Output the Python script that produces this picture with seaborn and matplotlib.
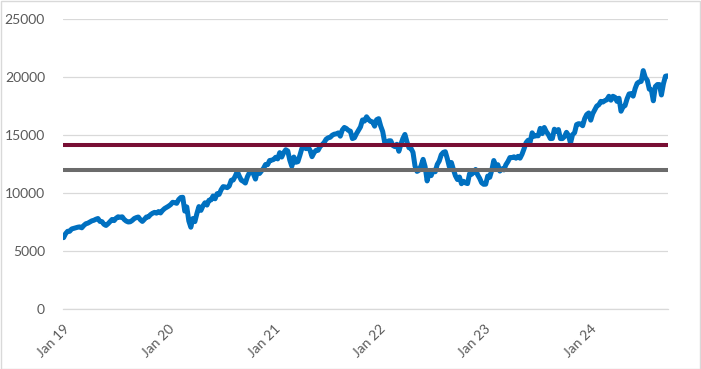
import matplotlib
matplotlib.use("Agg")

import matplotlib.pyplot as plt
import matplotlib.patches as mpatches
import seaborn as sns
import pandas as pd

# ── Data (weekly closes, Thursdays from 3 Jan 2019) ─────────────────────────
START_DATE = "2019-01-03"

values_2019 = [6150, 6500, 6700, 6700, 6900,
               6950, 7000, 7050, 7080,
               7000, 7200, 7350, 7400,
               7500, 7600, 7650, 7740,
               7800, 7550, 7530, 7300, 7200,
               7350, 7540, 7720, 7620,
               7830, 7950, 7900, 7950,
               7720, 7580, 7500, 7520, 7640,
               7800, 7880, 7930, 7700,
               7550, 7730, 7930, 7940, 8130,
               8250, 8330, 8260, 8400,
               8280, 8500, 8660, 8760]

values_2020 = [8870, 9000, 9200, 9170, 9110,
               9440, 9610, 9630, 8440,
               8800, 7590, 7050, 7800,
               7530, 8230, 8830, 8500, 8890,
               9160, 8960, 9380, 9400,
               9740, 9500, 9940, 9880,
               10280, 10550, 10520, 10460, 10600,
               11100, 11120, 11460, 11860,
               11450, 11100, 11000, 10860,
               11400, 11750, 11870, 11640, 11200,
               11900, 11680, 11910, 12130,
               12460, 12440, 12800, 12830, 12890]

values_2021 = [13080, 12940, 13480, 13100,
               13480, 13730, 13620, 12830,
               12300, 13100, 12650, 12700,
               13250, 13850, 14040, 13820, 13990,
               13690, 13130, 13470, 13680,
               13680, 14010, 14160, 14350,
               14640, 14760, 14800, 14980, 15070,
               15100, 15180, 14900, 15430,
               15650, 15560, 15400, 15330, 14690,
               14760, 15110, 15410, 15700,
               16300, 16200, 16570, 16330,
               16170, 16130, 15760, 16320, 16410]

values_2022 = [15770, 15300, 14340, 14200,
               14500, 14500, 14100, 14000,
               14200, 13600, 14200, 14700, 15050,
               14400, 13900, 13850, 13500,
               12320, 11860, 11970, 12350,
               12900, 12270, 11040, 11780, 11500,
               11960, 11830, 12460, 12760,
               13300, 13500, 13560, 12950,
               12260, 12630, 12030, 11490, 11160,
               11380, 10800, 11010, 10870,
               10810, 11660, 11610, 11780,
               12030, 11570, 11270, 10880, 10750]

values_2023 = [10760, 11460, 11350, 11960,
               12800, 12270, 12440, 11890,
               12080, 11990, 12440, 12710, 13060,
               13050, 13120, 13000, 13160,
               13000, 13350, 13820, 14340,
               14550, 14380, 15190, 14890, 14940,
               14930, 15570, 15120, 15650,
               15290, 15040, 14690, 14700, 15500,
               15310, 15470, 14690, 14690,
               14860, 15230, 14960, 14300,
               15030, 15190, 15900, 15980, 15950,
               15800, 16410, 16760, 16900]

values_2024 = [16280, 16840, 17180, 17500,
               17600, 17900, 17840, 17960, 18040,
               18340, 18000, 18340, 18250,
               17900, 18170, 17050, 17430,
               17540, 18120, 18540, 18570, 18350,
               19010, 19460, 19580, 19620,
               20550, 19960, 19720, 18950,
               18900, 17950, 19180, 19350, 19350,
               18450, 19410, 20070, 20100]

index_values = values_2019 + values_2020 + values_2021 + values_2022 + values_2023 + values_2024
dates = pd.date_range(START_DATE, periods=len(index_values), freq="7D")

level_upper = 14100
level_lower = 12000

year_ticks = pd.date_range("2019-01-01", "2024-01-01", freq="YS")
year_labels = ["Jan 19", "Jan 20", "Jan 21", "Jan 22", "Jan 23", "Jan 24"]
y_ticks = [0, 5000, 10000, 15000, 20000, 25000]

# ── Style ──────────────────────────────────────────────────────────────────
BLUE = "#0070C0"
MAROON = "#780F34"
GREY = "#6B6B6B"
GRID = "#D9D9D9"
TEXT = "#595959"

sns.set_style("white")
plt.rcParams["font.family"] = ["Lato", "DejaVu Sans"]

fig = plt.figure(figsize=(7.01, 3.69), dpi=100)
ax = fig.add_axes([0.0899, 0.1626, 0.8631, 0.7859])

df = pd.DataFrame({"date": dates, "value": index_values})
sns.lineplot(data=df, x="date", y="value", ax=ax, color=BLUE,
             linewidth=3.6, solid_joinstyle="round", zorder=3)

ax.axhline(level_upper, color=MAROON, linewidth=2.9, zorder=4)
ax.axhline(level_lower, color=GREY, linewidth=2.9, zorder=4)

ax.set_ylim(0, 25000)
ax.set_yticks(y_ticks)
ax.set_yticklabels([str(v) for v in y_ticks])
ax.set_xlim(pd.Timestamp("2019-01-01"), pd.Timestamp("2024-09-28"))
ax.set_xticks(year_ticks)
ax.set_xticklabels(year_labels, rotation=45, ha="right", rotation_mode="anchor")

ax.grid(axis="y", color=GRID, linewidth=0.9, zorder=0)
ax.grid(axis="x", visible=False)
ax.set_axisbelow(True)
ax.set_xlabel("")
ax.set_ylabel("")

for side in ["top", "right", "left"]:
    ax.spines[side].set_visible(False)
ax.spines["bottom"].set_color(GRID)
ax.spines["bottom"].set_linewidth(0.9)

ax.tick_params(axis="y", length=0, pad=13, labelsize=10, labelcolor=TEXT)
ax.tick_params(axis="x", length=5, width=0.9, color=GRID, pad=5,
               labelsize=10, labelcolor=TEXT, direction="out")

# chart-area border
fig.patches.append(mpatches.Rectangle((0.001, 0.001), 0.997, 0.996,
                                      transform=fig.transFigure, fill=False,
                                      edgecolor=GRID, linewidth=1.0))

fig.savefig("out.png", dpi=100, facecolor="white")
plt.close(fig)
